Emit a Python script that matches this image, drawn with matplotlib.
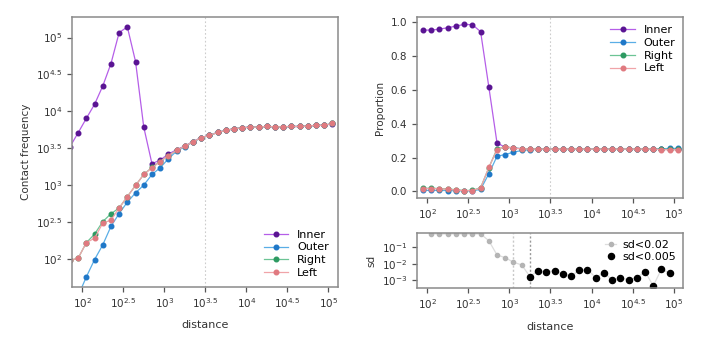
import numpy as np
import matplotlib
matplotlib.use("Agg")
import matplotlib.pyplot as plt
from matplotlib.ticker import FixedLocator, FuncFormatter, NullLocator

# distance bins (log10)
dist_log = [1.85, 1.95, 2.05, 2.15, 2.25, 2.35, 2.45, 2.55, 2.65, 2.75, 2.85,
            2.95, 3.05, 3.15, 3.25, 3.35, 3.45, 3.55, 3.65, 3.75, 3.85, 3.95,
            4.05, 4.15, 4.25, 4.35, 4.45, 4.55, 4.65, 4.75, 4.85, 4.95, 5.05]

# contact frequency (log10)
inner_log = [3.52, 3.71, 3.905, 4.095, 4.343, 4.647, 5.068, 5.144, 4.674, 3.787, 3.29,
             3.34, 3.42, 3.48, 3.53, 3.59, 3.645, 3.675, 3.715, 3.742, 3.765, 3.778,
             3.787, 3.787, 3.795, 3.79, 3.79, 3.795, 3.795, 3.80, 3.81, 3.81, 3.835]
outer_log = [1.25, 1.5, 1.756, 1.99, 2.19, 2.44, 2.615, 2.77, 2.895, 3.0, 3.144,
             3.235, 3.357, 3.46, 3.52, 3.585, 3.64, 3.673, 3.714, 3.741, 3.764, 3.777,
             3.786, 3.786, 3.795, 3.79, 3.79, 3.795, 3.795, 3.80, 3.81, 3.81, 3.836]
right_log = [1.98, 2.01, 2.22, 2.335, 2.505, 2.612, 2.69, 2.845, 2.995, 3.144, 3.24,
             3.32, 3.40, 3.47, 3.528, 3.588, 3.642, 3.673, 3.714, 3.741, 3.764, 3.777,
             3.786, 3.786, 3.795, 3.79, 3.79, 3.795, 3.795, 3.80, 3.81, 3.81, 3.836]
left_log = [1.98, 2.01, 2.22, 2.28, 2.485, 2.525, 2.69, 2.845, 2.995, 3.144, 3.235,
            3.318, 3.40, 3.47, 3.528, 3.588, 3.642, 3.673, 3.714, 3.741, 3.764, 3.777,
            3.786, 3.786, 3.795, 3.79, 3.79, 3.795, 3.795, 3.80, 3.81, 3.81, 3.836]

# proportions, from 10^1.95 on
prop_log = dist_log[1:]
inner_p = [0.954, 0.954, 0.96, 0.968, 0.978, 0.988, 0.986, 0.945, 0.618, 0.285, 0.262,
           0.258, 0.252, 0.25, 0.25, 0.25, 0.25, 0.25, 0.25, 0.25, 0.25, 0.25,
           0.25, 0.25, 0.25, 0.25, 0.25, 0.25, 0.25, 0.25, 0.25, 0.25]
outer_p = [0.006, 0.006, 0.006, 0.005, 0.004, 0.003, 0.003, 0.012, 0.104, 0.208, 0.218,
           0.232, 0.242, 0.247, 0.249, 0.25, 0.25, 0.25, 0.25, 0.25, 0.25, 0.25,
           0.25, 0.25, 0.25, 0.25, 0.25, 0.25, 0.25, 0.252, 0.254, 0.254]
right_p = [0.018, 0.018, 0.017, 0.014, 0.01, 0.005, 0.006, 0.022, 0.14, 0.252, 0.262,
           0.256, 0.253, 0.251, 0.25, 0.25, 0.25, 0.25, 0.25, 0.25, 0.25, 0.25,
           0.25, 0.25, 0.25, 0.25, 0.25, 0.25, 0.25, 0.249, 0.248, 0.248]
left_p = [0.017, 0.017, 0.016, 0.012, 0.008, 0.004, 0.005, 0.02, 0.142, 0.247, 0.265,
          0.255, 0.252, 0.25, 0.25, 0.25, 0.25, 0.25, 0.25, 0.25, 0.25, 0.25,
          0.25, 0.25, 0.25, 0.25, 0.25, 0.25, 0.25, 0.247, 0.246, 0.246]

# sd of proportions (log10)
sd_x = dist_log[2:-1]
sd_log = [-0.19, -0.19, -0.19, -0.19, -0.19, -0.19, -0.19, -0.6, -1.47, -1.63,
          -1.91, -2.07, -2.78, -2.41, -2.50, -2.41, -2.63, -2.74, -2.40, -2.35,
          -2.84, -2.54, -2.98, -2.88, -2.96, -2.84, -2.48, -3.34, -2.32, -2.58]

names = ["Inner", "Outer", "Right", "Left"]
mcol = ["#5a1493", "#1f78c8", "#2e9a62", "#e07a80"]
lcol = ["#b55ee8", "#5aaee6", "#6cc495", "#f0a4a8"]

plt.rcParams['font.family'] = 'DejaVu Sans'
fs = 7.5
fig = plt.figure(figsize=(7.2, 3.6), dpi=100)
ax1 = fig.add_axes([0.100, 0.203, 0.369, 0.750])
ax2 = fig.add_axes([0.579, 0.451, 0.370, 0.501])
ax3 = fig.add_axes([0.579, 0.201, 0.370, 0.151])

xt = [2, 2.5, 3, 3.5, 4, 4.5, 5]
def pw(v, pos=None):
    e = np.log10(v)
    s = ("%g" % round(e, 2))
    return r"$10^{%s}$" % s

def style(ax):
    for sp in ax.spines.values():
        sp.set_color("#8a8a8a")
        sp.set_linewidth(1.1)
    ax.tick_params(colors="#555555", labelcolor="#333333", labelsize=fs,
                   length=3.5, width=0.9, direction="out")
    ax.set_xscale("log")
    ax.set_xlim(10 ** 1.875, 10 ** 5.115)
    ax.xaxis.set_major_locator(FixedLocator([10 ** t for t in xt]))
    ax.xaxis.set_major_formatter(FuncFormatter(pw))
    ax.xaxis.set_minor_locator(NullLocator())

x_all = 10 ** np.array(dist_log)
series = [inner_log, outer_log, right_log, left_log]

# left: contact frequency
style(ax1)
ax1.set_yscale("log")
ax1.axvline(10 ** 3.5, color="#cccccc", lw=0.8, ls=(0, (1.5, 2)), zorder=0)
for nm, ys, mc, lc in zip(names, series, mcol, lcol):
    ax1.plot(x_all, 10 ** np.array(ys), color=lc, lw=0.9, marker="o", ms=3.3,
             mfc=mc, mec=mc, label=nm)
ax1.set_ylim(10 ** 1.62, 10 ** 5.28)
ax1.yaxis.set_major_locator(FixedLocator([10 ** t for t in xt]))
ax1.yaxis.set_major_formatter(FuncFormatter(pw))
ax1.yaxis.set_minor_locator(NullLocator())
ax1.set_ylabel("Contact frequency", fontsize=fs, color="#333333")
ax1.set_xlabel("distance", fontsize=fs + 0.5, color="#333333", labelpad=7)
ax1.legend(loc="lower right", frameon=False, fontsize=fs + 0.5, handlelength=2.2,
           labelspacing=0.25, borderaxespad=0.4, handletextpad=0.8)

# top right: proportion
style(ax2)
ax2.axvline(10 ** 3.5, color="#cccccc", lw=0.8, ls=(0, (1.5, 2)), zorder=0)
x_p = 10 ** np.array(prop_log)
for nm, ys, mc, lc in zip(names, [inner_p, outer_p, right_p, left_p], mcol, lcol):
    ax2.plot(x_p, ys, color=lc, lw=0.9, marker="o", ms=3.3, mfc=mc, mec=mc, label=nm)
ax2.set_ylim(-0.037, 1.03)
ax2.set_yticks([0.0, 0.2, 0.4, 0.6, 0.8, 1.0])
ax2.yaxis.set_major_formatter(FuncFormatter(lambda v, p: "%.1f" % v))
ax2.set_ylabel("Proportion", fontsize=fs, color="#333333")
ax2.legend(loc="upper right", frameon=False, fontsize=fs + 0.5, handlelength=2.2,
           labelspacing=0.25, borderaxespad=0.3, handletextpad=0.8)

# bottom right: sd
style(ax3)
ax3.set_yscale("log")
sd = 10 ** np.array(sd_log)
xs = 10 ** np.array(sd_x)
i1 = int(np.argmax(sd < 0.02))
i2 = int(np.argmax(sd < 0.005))
ax3.axvline(xs[i1], color="#c8c8c8", lw=1.0, ls=(0, (1.5, 1.5)), zorder=0)
ax3.axvline(xs[i2], color="#999999", lw=1.0, ls=(0, (1.5, 1.5)), zorder=0)
ax3.plot(xs, sd, color="#dddddd", lw=0.9, marker="o", ms=3.0, mfc="#b4b4b4",
         mec="#b4b4b4", label="sd<0.02")
blk = sd < 0.005
ax3.plot(xs[blk], sd[blk], ls="none", marker="o", ms=4.4, color="black", label="sd<0.005")
ax3.set_ylim(10 ** -3.45, 10 ** -0.15)
ax3.yaxis.set_major_locator(FixedLocator([1e-3, 1e-2, 1e-1]))
ax3.yaxis.set_major_formatter(FuncFormatter(lambda v, p: r"$10^{%d}$" % round(np.log10(v))))
ax3.yaxis.set_minor_locator(NullLocator())
ax3.set_ylabel("sd", fontsize=fs, color="#333333")
ax3.set_xlabel("distance", fontsize=fs + 0.5, color="#333333", labelpad=8)
ax3.legend(loc="upper right", frameon=False, fontsize=fs + 0.5, handlelength=1.0,
           labelspacing=0.2, borderaxespad=0.2, handletextpad=0.6)

fig.savefig("out.png", dpi=100)
